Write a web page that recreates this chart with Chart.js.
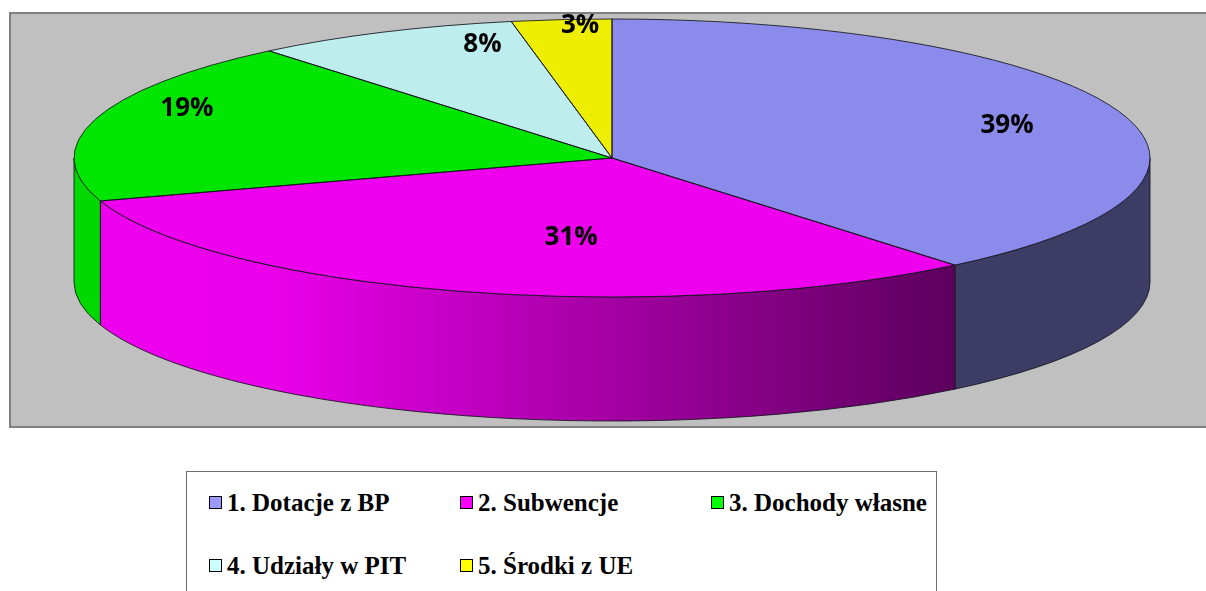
<!DOCTYPE html>
<html>
<head>
<meta charset="utf-8">
<script src="https://cdn.jsdelivr.net/npm/chart.js@4/dist/chart.umd.min.js"></script>
<style>
  body { margin: 0; background: #fff; width: 1206px; height: 591px; overflow: hidden; position: relative; }
  #chart-wrap { position: absolute; left: 0; top: 0; width: 1206px; height: 440px; }
  #legend {
    position: absolute; left: 186px; top: 471px; width: 751px; height: 150px;
    box-sizing: border-box; border: 1px solid #6e6e6e; background: #fff;
    padding: 18px 0 0 22px;
    display: grid; grid-template-columns: 251px 251px 249px; row-gap: 38px; align-content: start;
    font-family: "Liberation Serif", Tinos, "Nimbus Roman", "DejaVu Serif", serif;
    font-weight: 700; font-size: 25px; color: #000;
  }
  #legend .item { display: flex; align-items: center; height: 25px; line-height: 25px; white-space: nowrap; }
  #legend .box { width: 11px; height: 11px; border: 1px solid #000; margin-right: 5px; flex: none; }
</style>
</head>
<body>
<div id="chart-wrap"><canvas id="pie" width="1206" height="440"></canvas></div>
<div id="legend"></div>
<script>
// slices, clockwise from 12 o'clock
const labels = ['1. Dotacje z BP', '2. Subwencje', '3. Dochody własne', '4. Udziały w PIT', '5. Środki z UE'];
const shares = [39, 31, 19, 8, 3];

const topColors = ['#8b8beb', '#ee00ee', '#00e600', '#beeded', '#eeee00'];
const sideColors = ['#3c3c64', null, '#00d800', '#9ec8c8', '#c8c800'];
const legendColors = ['#9999ff', '#ff00ff', '#00ff00', '#ccffff', '#ffff00'];

const TILT = 139 / 538;   // vertical squash of the pie top
const DEPTH = 124;        // thickness of the disc
const OUTLINE = 'rgba(20,20,30,0.85)';
// excel places its 3d labels a bit off the mid angle: [radius fraction, angle shift in deg]
const labelNudge = [[0.776, 0.9], [0.559, -8.4], [0.874, 9.1], [0.868, 9.1], [0.973, 1.9]];

function sideFill(ctx, i, arc, s, e) {
  if (sideColors[i]) return sideColors[i];
  // magenta wall fades to dark towards the right
  const x0 = arc.x + arc.outerRadius * Math.cos(e);
  const x1 = arc.x + arc.outerRadius * Math.cos(s);
  const g = ctx.createLinearGradient(x0, 0, x1, 0);
  g.addColorStop(0, '#ee00ee');
  g.addColorStop(0.2, '#ea00ea');
  g.addColorStop(1, '#5c005c');
  return g;
}

const pie3d = {
  id: 'pie3d',
  beforeDraw(chart) {
    const ctx = chart.ctx;
    ctx.save();
    ctx.fillStyle = '#c0c0c0';
    ctx.fillRect(10, 13, 1210, 414);
    ctx.strokeStyle = '#808080';
    ctx.lineWidth = 2;
    ctx.strokeRect(10, 13, 1210, 414);
    ctx.restore();
  },
  beforeDatasetsDraw(chart) {
    const ctx = chart.ctx;
    const arcs = chart.getDatasetMeta(0).data;
    ctx.save();
    arcs.forEach((arc, i) => {
      const s = Math.max(arc.startAngle, 0);
      const e = Math.min(arc.endAngle, Math.PI);
      if (s >= e) return;
      const rx = arc.outerRadius, ry = rx * TILT;
      ctx.beginPath();
      ctx.ellipse(arc.x, arc.y, rx, ry, 0, s, e);
      ctx.ellipse(arc.x, arc.y + DEPTH, rx, ry, 0, e, s, true);
      ctx.closePath();
      ctx.fillStyle = sideFill(ctx, i, arc, s, e);
      ctx.fill();
      ctx.strokeStyle = OUTLINE;
      ctx.lineWidth = 1;
      ctx.stroke();
    });
    ctx.restore();
    // squash the library's arcs into the tilted top
    const a = arcs[0];
    ctx.save();
    ctx.translate(a.x, a.y);
    ctx.scale(1, TILT);
    ctx.translate(-a.x, -a.y);
  },
  afterDatasetsDraw(chart) {
    const ctx = chart.ctx;
    ctx.restore();
    const arcs = chart.getDatasetMeta(0).data;
    ctx.save();
    ctx.strokeStyle = OUTLINE;
    ctx.lineWidth = 1;
    arcs.forEach(arc => {
      const rx = arc.outerRadius, ry = rx * TILT;
      ctx.beginPath();
      ctx.moveTo(arc.x, arc.y);
      ctx.ellipse(arc.x, arc.y, rx, ry, 0, arc.startAngle, arc.endAngle);
      ctx.closePath();
      ctx.stroke();
    });
    ctx.fillStyle = '#000';
    ctx.font = 'bold 26px "Open Sans", Lato, sans-serif';
    ctx.textAlign = 'center';
    ctx.textBaseline = 'alphabetic';
    arcs.forEach((arc, i) => {
      const [f, shift] = labelNudge[i];
      const mid = (arc.startAngle + arc.endAngle) / 2 + shift * Math.PI / 180;
      const rx = arc.outerRadius, ry = rx * TILT;
      const x = arc.x + rx * f * Math.cos(mid);
      const y = arc.y + ry * f * Math.sin(mid);
      ctx.fillText(shares[i] + '%', x, y + 10);
    });
    ctx.restore();
  }
};

const chart = new Chart(document.getElementById('pie'), {
  type: 'pie',
  data: {
    labels: labels,
    datasets: [{
      data: shares,
      backgroundColor: topColors,
      borderWidth: 0,
      radius: 538,
      clip: false,
    }],
  },
  options: {
    responsive: false,
    animation: false,
    events: [],
    layout: { padding: { left: 18, right: 0, top: 0, bottom: 124 } },
    plugins: { legend: { display: false }, tooltip: { enabled: false } },
  },
  plugins: [pie3d],
});

// legend, Excel style grid
document.getElementById('legend').innerHTML = chart.data.labels.map((lbl, i) => `
  <div class="item"><span class="box" style="background:${legendColors[i]}"></span>${lbl}</div>
`).join('');
</script>
</body>
</html>
